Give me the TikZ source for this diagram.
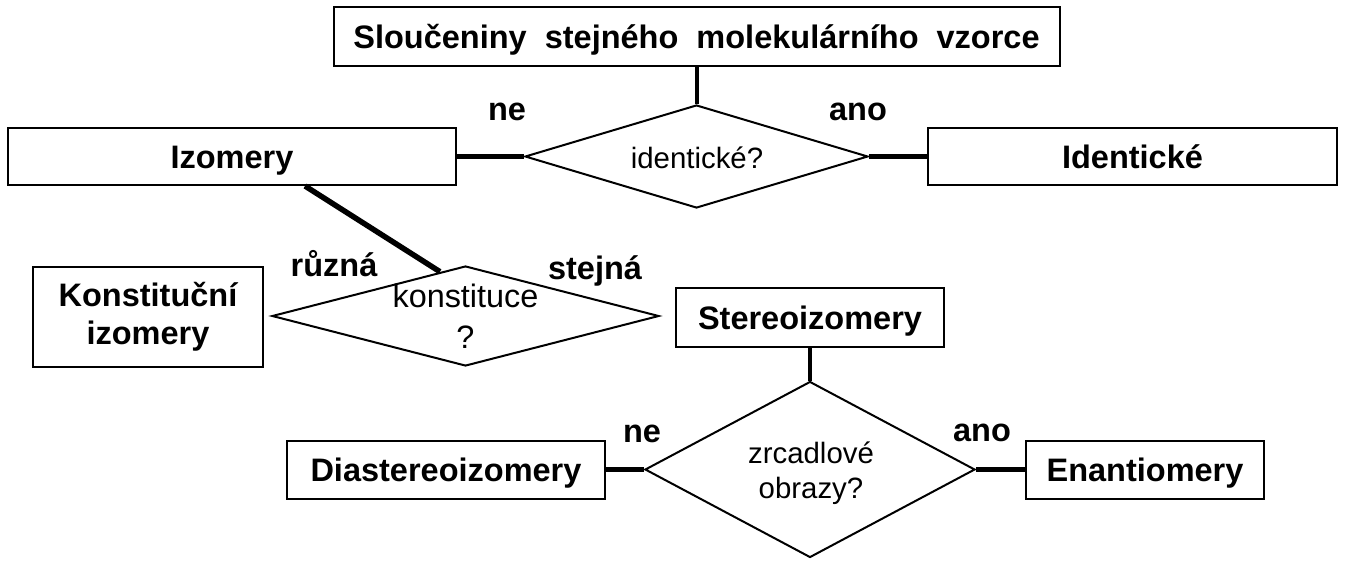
\documentclass[tikz,border=0pt]{standalone}
\usepackage{fontspec}
\setmainfont{Liberation Sans}
\usetikzlibrary{shapes.geometric}

\begin{document}
\begin{tikzpicture}[x=1pt, y=-1pt,
  box/.style={draw, line width=2pt, inner sep=0pt, align=center,
    font=\bfseries\fontsize{32.5}{38}\selectfont},
  oneline/.style={box, text height=23.3pt, text depth=0pt},
  ask/.style={draw, diamond, line width=2pt, inner sep=0pt},
  asktext/.style={align=center, font=\fontsize{29.4}{35}\selectfont},
  answer/.style={inner sep=0pt, font=\bfseries\fontsize{32.5}{38}\selectfont},
  link/.style={line width=5.5pt},
  stem/.style={line width=4pt}]
  \useasboundingbox (0,0) rectangle (1345,563);
  % first question: identical or not
  \node[oneline, minimum width=726, minimum height=59] (formula) at (696.5,36.5)
    {Sloučeniny\ \ stejného\ \ molekulárního\ \ vzorce};
  \node[ask, minimum width=343, minimum height=103] (qsame) at (696.5,156.5) {};
  \node[asktext] (qsame-t) at (697,158) {identické?};
  \node[oneline, minimum width=448, minimum height=57] (isomers) at (232,156.5) {Izomery};
  \node[oneline, minimum width=409, minimum height=57] (identical) at (1132.5,156.5) {Identické};
  \node[answer] (no1) at (507,112) {ne};
  \node[answer] (yes1) at (858,112) {ano};
  \draw[stem] (formula.south) -- (qsame.north);
  \draw[link] (isomers.east) -- (qsame.west);
  \draw[link] (qsame.east) -- (identical.west);
  % second question: constitution
  \node[ask, minimum width=387, minimum height=100] (qconst) at (465.5,316) {};
  \node[asktext, font=\fontsize{32.4}{41}\selectfont] (qconst-t) at (465.5,316) {konstituce\\?};
  \node[box, minimum width=230, minimum height=100] (constit) at (148,317) {Konstituční\\izomery};
  \node[oneline, minimum width=268, minimum height=59] (stereo) at (810,317.5) {Stereoizomery};
  \node[answer] (diff) at (334,264) {různá};
  \node[answer] (same) at (595,271) {stejná};
  \draw[link] (isomers.-22) -- (qconst.120);
  % third question: mirror images
  \node[ask, minimum width=330, minimum height=176] (qmirror) at (810,469.5) {};
  \node[asktext] (qmirror-t) at (811,473) {zrcadlové\\obrazy?};
  \node[oneline, minimum width=318, minimum height=58] (diast) at (446,469.5) {Diastereoizomery};
  \node[oneline, minimum width=238, minimum height=58] (enant) at (1145,469.5) {Enantiomery};
  \node[answer] (no2) at (642,434) {ne};
  \node[answer] (yes2) at (982,433) {ano};
  \draw[stem] (stereo.south) -- (qmirror.north);
  \draw[link] (diast.east) -- (qmirror.west);
  \draw[link] (qmirror.east) -- (enant.west);
\end{tikzpicture}
\end{document}
